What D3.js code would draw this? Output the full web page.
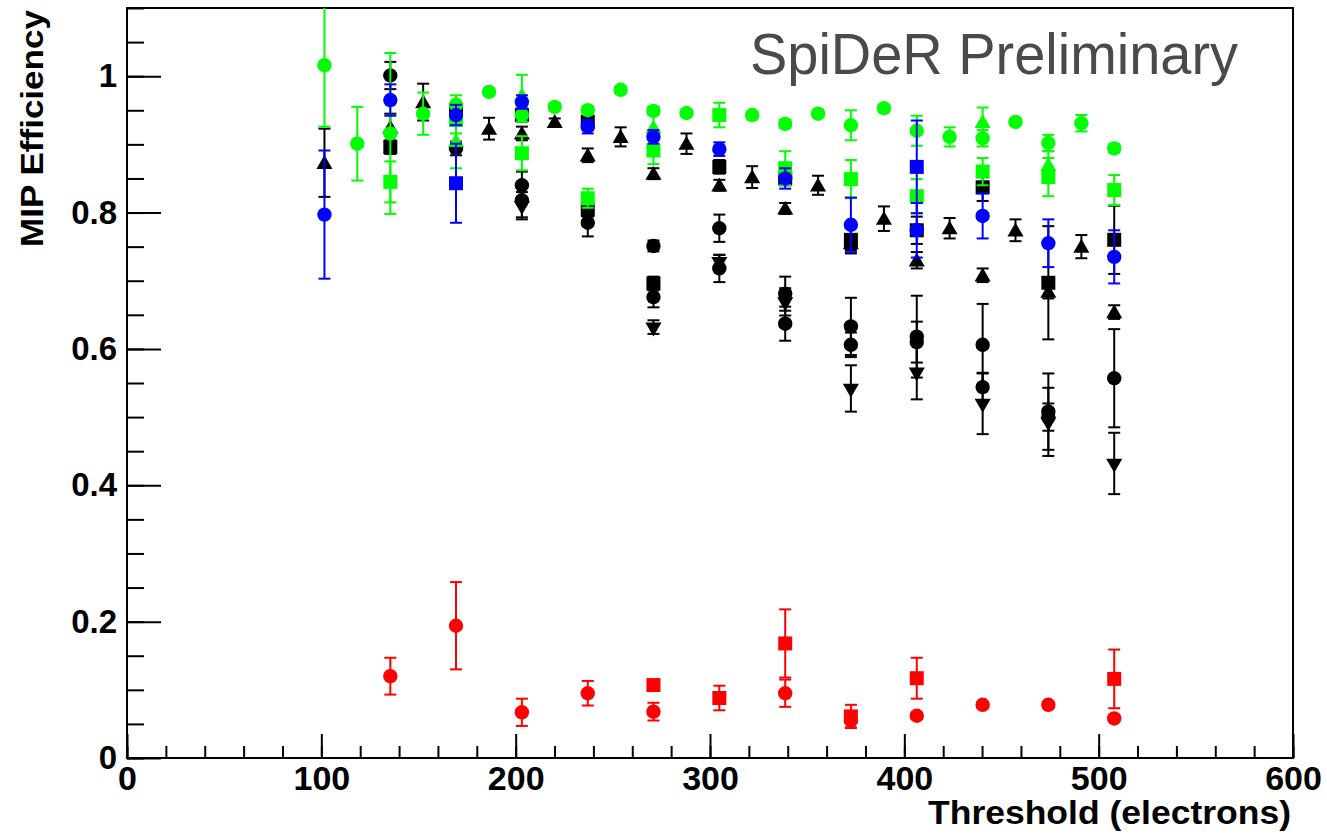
<!DOCTYPE html>
<html>
<head>
<meta charset="utf-8">
<script src="https://cdn.jsdelivr.net/npm/d3@7"></script>
<style>
  html, body { margin: 0; padding: 0; background: #fff; }
  svg { display: block; }
</style>
</head>
<body>
<div id="chart"></div>
<script>
// threshold scan points (electrons)
const thresholds = [101.6, 118.5, 135.5, 152.4, 169.3, 186.3, 203.2, 220.1, 237.1, 254.0,
  270.9, 287.9, 304.8, 321.7, 338.7, 355.6, 372.5, 389.5, 406.4, 423.3,
  440.3, 457.2, 474.1, 491.1, 508.0];

const xTicks = [0, 100, 200, 300, 400, 500, 600];
const yTicks = [0, 0.2, 0.4, 0.6, 0.8, 1];

// efficiencies, one slot per threshold (null = not measured)
const blackSquareA = [null, null, 0.896, null, 0.950, null, 0.943, null, 0.933, null, null, null, 0.867, null, 0.850, null, null, null, 0.774, null, 0.837, null, null, null, 0.760];
const blackSquareAErr = [null, null, 0.010, null, 0.010, null, 0.010, null, 0.010, null, null, null, 0.010, null, 0.010, null, null, null, 0.020, null, 0.020, null, null, null, 0.050];
const blackSquareB = [null, null, null, null, null, null, null, null, 0.804, null, 0.696, null, null, null, null, null, 0.760, null, null, null, null, null, 0.697, null, null];
const blackSquareBErr = [null, null, null, null, null, null, null, null, 0.010, null, 0.010, null, null, null, null, null, 0.020, null, null, null, null, null, 0.083, null, null];

const blackTriUpA = [0.873, null, 0.925, null, null, null, 0.916, null, 0.884, null, 0.857, null, 0.840, null, 0.806, null, 0.755, null, 0.730, null, 0.708, null, 0.684, null, 0.654];
const blackTriUpAErr = [0.050, null, 0.020, null, null, null, 0.010, null, 0.010, null, 0.008, null, 0.008, null, 0.008, null, 0.010, null, 0.012, null, 0.010, null, 0.010, null, 0.010];
const blackTriUpB = [null, null, null, 0.962, null, 0.923, null, 0.933, null, 0.911, null, 0.901, null, 0.852, null, 0.840, null, 0.791, null, 0.777, null, 0.774, null, 0.750, null];
const blackTriUpBErr = [null, null, null, 0.027, null, 0.016, null, 0.005, null, 0.014, null, 0.015, null, 0.016, null, 0.014, null, 0.018, null, 0.015, null, 0.016, null, 0.017, null];

const blackTriDown = [null, null, null, null, null, null, 0.810, null, null, null, 0.632, null, 0.728, null, 0.669, null, 0.542, null, 0.566, null, 0.520, null, 0.493, null, 0.432];
const blackTriDownErr = [null, null, null, null, null, null, 0.020, null, null, null, 0.010, null, 0.010, null, 0.020, null, 0.034, null, 0.040, null, 0.045, null, 0.050, null, 0.045];

const blackCircleA = [null, null, 1.001, null, 0.894, null, 0.840, null, 0.785, null, 0.751, null, 0.777, null, 0.681, null, 0.633, null, 0.618, null, 0.606, null, 0.508, null, 0.557];
const blackCircleAErr = [null, null, 0.020, null, 0.010, null, 0.020, null, 0.020, null, 0.008, null, 0.020, null, 0.025, null, 0.042, null, 0.060, null, 0.060, null, 0.056, null, 0.072];
const blackCircleB = [null, null, null, null, null, null, 0.818, null, null, null, 0.676, null, 0.718, null, 0.637, null, 0.606, null, 0.610, null, 0.544, null, 0.500, null, null];
const blackCircleBErr = [null, null, null, null, null, null, 0.025, null, null, null, 0.015, null, 0.020, null, 0.025, null, 0.018, null, 0.030, null, 0.020, null, 0.020, null, null];

const greenCircle = [1.016, 0.901, 0.916, 0.945, 0.958, 0.977, 0.943, 0.955, 0.950, 0.980, 0.949, 0.946, null, 0.943, 0.930, 0.945, 0.928, 0.953, 0.920, 0.911, 0.909, 0.933, 0.902, 0.931, 0.894];
const greenCircleErr = [0.090, 0.054, 0.118, 0.031, 0.014, 0.005, 0.010, 0.005, 0.006, 0.005, 0.006, 0.005, null, 0.005, 0.006, 0.005, 0.022, 0.005, 0.022, 0.014, 0.012, 0.005, 0.012, 0.012, 0.006];
const greenSquare = [null, null, 0.845, null, 0.936, null, 0.887, null, 0.821, null, 0.891, null, 0.943, null, 0.865, null, 0.849, null, 0.824, null, 0.860, null, 0.852, null, 0.833];
const greenSquareErr = [null, null, 0.030, null, 0.020, null, 0.025, null, 0.014, null, 0.020, null, 0.018, null, 0.025, null, 0.028, null, 0.025, null, 0.020, null, 0.028, null, 0.022];
const greenTriUp = [null, null, null, null, 0.905, null, 0.972, null, null, null, 0.925, null, null, null, null, null, null, null, null, null, 0.933, null, 0.870, null, null];
const greenTriUpErr = [null, null, null, null, 0.040, null, 0.030, null, null, null, 0.030, null, null, null, null, null, null, null, null, null, 0.021, null, 0.020, null, null];

const blueCircle = [0.797, null, 0.965, null, 0.943, null, 0.962, null, 0.926, null, 0.911, null, 0.893, null, 0.850, null, 0.782, null, 0.774, null, 0.795, null, 0.755, null, 0.735];
const blueCircleErr = [0.094, null, 0.023, null, 0.015, null, 0.010, null, 0.010, null, 0.010, null, 0.010, null, 0.015, null, 0.040, null, 0.040, null, 0.033, null, 0.035, null, 0.039];
const blueSquare = [null, null, null, null, 0.843, null, null, null, null, null, null, null, null, null, null, null, null, null, 0.867, null, null, null, null, null, null];
const blueSquareErr = [null, null, null, null, 0.058, null, null, null, null, null, null, null, null, null, null, null, null, null, 0.068, null, null, null, null, null, null];

const redCircle = [null, null, 0.120, null, 0.194, null, 0.067, null, 0.095, null, 0.068, null, null, null, 0.095, null, 0.055, null, 0.062, null, 0.078, null, 0.078, null, 0.058];
const redCircleErr = [null, null, 0.027, null, 0.064, null, 0.020, null, 0.018, null, 0.013, null, null, null, 0.020, null, 0.010, null, 0.005, null, 0.004, null, 0.004, null, 0.004];
const redSquare = [null, null, null, null, null, null, null, null, null, null, 0.107, null, 0.088, null, 0.168, null, 0.061, null, 0.117, null, null, null, null, null, 0.116];
const redSquareErr = [null, null, null, null, null, null, null, null, null, null, 0.005, null, 0.018, null, 0.050, null, 0.017, null, 0.030, null, null, null, null, null, 0.043];

main();

function main() {
  const width = 1327;
  const height = 835;
  // frame of the pad
  const frame = { left: 127, right: 1293, top: 8, bottom: 758 };

  const svg = d3
    .select("#chart")
    .append("svg")
    .attr("width", width)
    .attr("height", height)
    .attr("viewBox", `0 0 ${width} ${height}`);

  const scaleX = d3.scaleLinear().domain([0, 600]).range([frame.left, frame.right]);
  const scaleY = d3.scaleLinear().domain([0, 1.1]).range([frame.bottom, frame.top]);

  const series = [
    { values: blackSquareA, errors: blackSquareAErr, color: "#000000", shape: "square" },
    { values: blackSquareB, errors: blackSquareBErr, color: "#000000", shape: "square" },
    { values: blackTriUpA, errors: blackTriUpAErr, color: "#000000", shape: "triUp" },
    { values: blackTriUpB, errors: blackTriUpBErr, color: "#000000", shape: "triUp" },
    { values: blackTriDown, errors: blackTriDownErr, color: "#000000", shape: "triDown" },
    { values: blackCircleA, errors: blackCircleAErr, color: "#000000", shape: "circle" },
    { values: blackCircleB, errors: blackCircleBErr, color: "#000000", shape: "circle" },
    { values: greenSquare, errors: greenSquareErr, color: "#00ff00", shape: "square" },
    { values: greenTriUp, errors: greenTriUpErr, color: "#00ff00", shape: "triUp" },
    { values: greenCircle, errors: greenCircleErr, color: "#00ff00", shape: "circle" },
    { values: blueSquare, errors: blueSquareErr, color: "#0000ff", shape: "square" },
    { values: blueCircle, errors: blueCircleErr, color: "#0000ff", shape: "circle" },
    { values: redSquare, errors: redSquareErr, color: "#ff0000", shape: "square" },
    { values: redCircle, errors: redCircleErr, color: "#ff0000", shape: "circle" },
  ];

  renderAxes(svg, frame, scaleX, scaleY);
  renderPoints(svg, frame, scaleX, scaleY, series);
  renderTexts(svg, frame);
}

function renderAxes(svg, frame, scaleX, scaleY) {
  const font = "'Liberation Sans', Arial, Helvetica, sans-serif";

  // minor ticks
  const minorX = d3.range(0, 601, 20);
  const minorY = d3.range(0, 1.1001, 0.05);

  svg
    .append("g")
    .attr("transform", `translate(0, ${frame.bottom})`)
    .call(d3.axisBottom(scaleX).tickValues(minorX).tickSize(-12).tickFormat(""))
    .call((g) => g.select(".domain").remove())
    .call((g) => g.selectAll(".tick line").attr("stroke", "#000").attr("stroke-width", 2));

  svg
    .append("g")
    .attr("transform", `translate(${frame.left}, 0)`)
    .call(d3.axisLeft(scaleY).tickValues(minorY).tickSize(-17).tickFormat(""))
    .call((g) => g.select(".domain").remove())
    .call((g) => g.selectAll(".tick line").attr("stroke", "#000").attr("stroke-width", 2));

  // major ticks + labels
  svg
    .append("g")
    .attr("transform", `translate(0, ${frame.bottom})`)
    .call(
      d3.axisBottom(scaleX).tickValues(xTicks).tickSize(-24).tickPadding(8).tickFormat(d3.format("d"))
    )
    .call((g) => g.select(".domain").remove())
    .call((g) => g.selectAll(".tick line").attr("stroke", "#000").attr("stroke-width", 2))
    .call((g) =>
      g
        .selectAll(".tick text")
        .attr("fill", "#000")
        .attr("font-family", font)
        .attr("font-weight", "bold")
        .attr("font-size", 34)
    );

  svg
    .append("g")
    .attr("transform", `translate(${frame.left}, 0)`)
    .call(
      d3.axisLeft(scaleY).tickValues(yTicks).tickSize(-34).tickPadding(10).tickFormat((d) => `${d}`)
    )
    .call((g) => g.select(".domain").remove())
    .call((g) => g.selectAll(".tick line").attr("stroke", "#000").attr("stroke-width", 2))
    .call((g) =>
      g
        .selectAll(".tick text")
        .attr("fill", "#000")
        .attr("font-family", font)
        .attr("font-weight", "bold")
        .attr("font-size", 33)
    );

  // frame
  svg
    .append("rect")
    .attr("x", frame.left)
    .attr("y", frame.top)
    .attr("width", frame.right - frame.left)
    .attr("height", frame.bottom - frame.top)
    .attr("fill", "none")
    .attr("stroke", "#000")
    .attr("stroke-width", 2);
}

function renderPoints(svg, frame, scaleX, scaleY, series) {
  svg
    .append("clipPath")
    .attr("id", "frameClip")
    .append("rect")
    .attr("x", frame.left)
    .attr("y", frame.top)
    .attr("width", frame.right - frame.left)
    .attr("height", frame.bottom - frame.top);

  const root = svg.append("g").attr("clip-path", "url(#frameClip)");
  const capHalf = 6;

  const symbols = {
    circle: d3.symbol().type(d3.symbolCircle).size(Math.PI * 7.2 * 7.2),
    square: d3.symbol().type(d3.symbolSquare).size(14 * 14),
    triUp: d3.symbol().type(d3.symbolTriangle).size(112),
    triDown: d3.symbol().type(d3.symbolTriangle).size(112),
  };

  for (const s of series) {
    const points = s.values
      .map((v, i) => ({ x: thresholds[i], y: v, err: s.errors[i] }))
      .filter((d) => d.y !== null);

    const g = root.append("g");

    // error bars
    const bars = g
      .selectAll("g.bar")
      .data(points.filter((d) => d.err))
      .join("g")
      .attr("class", "bar")
      .attr("stroke", s.color)
      .attr("stroke-width", 2);
    bars
      .append("line")
      .attr("x1", (d) => scaleX(d.x))
      .attr("x2", (d) => scaleX(d.x))
      .attr("y1", (d) => scaleY(d.y + d.err))
      .attr("y2", (d) => scaleY(d.y - d.err));
    bars
      .append("line")
      .attr("x1", (d) => scaleX(d.x) - capHalf)
      .attr("x2", (d) => scaleX(d.x) + capHalf)
      .attr("y1", (d) => scaleY(d.y + d.err))
      .attr("y2", (d) => scaleY(d.y + d.err));
    bars
      .append("line")
      .attr("x1", (d) => scaleX(d.x) - capHalf)
      .attr("x2", (d) => scaleX(d.x) + capHalf)
      .attr("y1", (d) => scaleY(d.y - d.err))
      .attr("y2", (d) => scaleY(d.y - d.err));

    // markers
    g.selectAll("path.marker")
      .data(points)
      .join("path")
      .attr("class", "marker")
      .attr("d", symbols[s.shape])
      .attr("fill", s.color)
      .attr("transform", (d) => {
        const t = `translate(${scaleX(d.x)}, ${scaleY(d.y)})`;
        if (s.shape === "triDown") return `${t} rotate(180)`;
        if (s.shape === "triUp") return `${t} translate(0, 1.5)`;
        return t;
      });
  }
}

function renderTexts(svg, frame) {
  const font = "'Liberation Sans', Arial, Helvetica, sans-serif";

  svg
    .append("text")
    .text("Threshold (electrons)")
    .attr("x", 1291)
    .attr("y", 824)
    .attr("text-anchor", "end")
    .attr("font-family", font)
    .attr("font-weight", "bold")
    .attr("font-size", 33)
    .attr("textLength", 363)
    .attr("lengthAdjust", "spacingAndGlyphs");

  svg
    .append("text")
    .text("MIP Efficiency")
    .attr("transform", "translate(43, 247) rotate(-90)")
    .attr("text-anchor", "start")
    .attr("font-family", font)
    .attr("font-weight", "bold")
    .attr("font-size", 32)
    .attr("textLength", 237)
    .attr("lengthAdjust", "spacingAndGlyphs");

  svg
    .append("text")
    .text("SpiDeR Preliminary")
    .attr("x", 750)
    .attr("y", 73.5)
    .attr("fill", "#4a4a4a")
    .attr("font-family", font)
    .attr("font-size", 57)
    .attr("textLength", 488)
    .attr("lengthAdjust", "spacingAndGlyphs");
}
</script>
</body>
</html>
